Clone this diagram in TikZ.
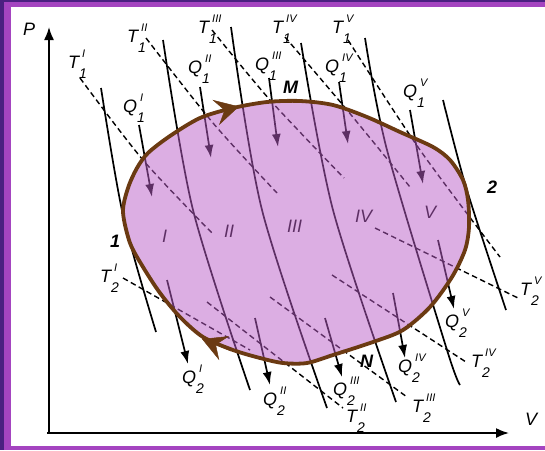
\documentclass[tikz,border=0pt]{standalone}
\usepackage{fontspec}
\setmainfont{Liberation Sans}
\usepackage{tikz}
\usetikzlibrary{arrows.meta}
\definecolor{Frame}{HTML}{A444C0}
\definecolor{FrameDark}{HTML}{4A2080}
\definecolor{Cycle}{HTML}{BB5FC9}
\definecolor{Rim}{HTML}{6B3A12}

\newcommand{\tlab}[3]{#1\rlap{\raisebox{-10pt}{\fontsize{14}{14}\selectfont #2}}\kern3pt\raisebox{11pt}{\fontsize{11}{11}\selectfont #3}}

\begin{document}
\begin{tikzpicture}[x=1pt,y=-1pt,
  every node/.style={font=\fontsize{18}{18}\selectfont\itshape, inner sep=0pt, anchor=base west},
  adiabat/.style={line width=1.7pt},
  isotherm/.style={line width=1.4pt, dash pattern=on 5.5pt off 3.5pt},
  heat/.style={line width=1.7pt, -{Latex[length=13pt,width=9pt]}},
  axis/.style={line width=1.7pt, -{Latex[length=13pt,width=10pt]}},
  flowtip/.style={Rim, line width=0.5pt, -{Stealth[length=24pt,width=26pt,inset=9pt]}},
  point/.style={font=\fontsize{18}{18}\selectfont\bfseries\itshape}]

      % frame
      \fill[FrameDark] (0,0) rectangle (545,450);
      \fill[Frame] (3.5,1.5) rectangle (545,450);
      \fill[white] (10.5,7) rectangle (545,445.5);

      % axes
      \coordinate (origin) at (49,433);
      \coordinate (ptop) at (49,27);
      \coordinate (vend) at (509,433);
      \draw[axis] (origin) -- (ptop);
      \draw[axis] (47,433) -- (vend);
      \node (pP) at (23,35) {P};
      \node (vV) at (525,425) {V};

      % adiabats
      \draw[adiabat] plot[smooth] coordinates {(101,88) (123,215) (156,332)};
      \draw[adiabat] plot[smooth] coordinates {(163,40) (193,210) (250,390)};
      \draw[adiabat] plot[smooth] coordinates {(231,27) (262,210) (327,408)};
      \draw[adiabat] plot[smooth] coordinates {(301,43) (333,210) (396,402)};
      \draw[adiabat] plot[smooth] coordinates {(365,38) (387,150) (447,350) (460,385)};
      \draw[adiabat] plot[smooth] coordinates {(443,100) (466,187) (506,310)};

      % isotherms, hot side
      \draw[isotherm] plot[smooth] coordinates {(80,78) (143,160) (212,233)};
      \draw[isotherm] plot[smooth] coordinates {(146,38) (213,123) (277,193)};
      \draw[isotherm] plot[smooth] coordinates {(212,30) (270,100) (344,178)};
      \draw[isotherm] plot[smooth] coordinates {(285,37) (347,110) (410,187)};
      \draw[isotherm] plot[smooth] coordinates {(348,40) (420,150) (500,257)};
      % isotherms, cold side
      \draw[isotherm] (123,278) -- (250,350);
      \draw[isotherm] (207,302) -- (343,408);
      \draw[isotherm] (270,297) -- (407,397);
      \draw[isotherm] (332,275) -- (466,362);
      \draw[isotherm] (375,228) -- (518,298);

      % heat in
      \coordinate (q1Ia) at (139,125);   \coordinate (q1Ib) at (152,197);
      \coordinate (q1IIa) at (200,87);   \coordinate (q1IIb) at (211,158);
      \coordinate (q1IIIa) at (269,78);  \coordinate (q1IIIb) at (278,147);
      \coordinate (q1IVa) at (339,82);   \coordinate (q1IVb) at (348,144);
      \coordinate (q1Va) at (410,110);   \coordinate (q1Vb) at (423,184);
      \draw[heat] (q1Ia) -- (q1Ib);
      \draw[heat] (q1IIa) -- (q1IIb);
      \draw[heat] (q1IIIa) -- (q1IIIb);
      \draw[heat] (q1IVa) -- (q1IVb);
      \draw[heat] (q1Va) -- (q1Vb);
      % heat out
      \coordinate (q2Ia) at (167,280);   \coordinate (q2Ib) at (188,364);
      \coordinate (q2IIa) at (255,318);  \coordinate (q2IIb) at (270,385);
      \coordinate (q2IIIa) at (325,318); \coordinate (q2IIIb) at (342,377);
      \coordinate (q2IVa) at (393,293);  \coordinate (q2IVb) at (405,358);
      \coordinate (q2Va) at (438,240);   \coordinate (q2Vb) at (454,309);
      \draw[heat] (q2Ia) -- (q2Ib);
      \draw[heat] (q2IIa) -- (q2IIb);
      \draw[heat] (q2IIIa) -- (q2IIIb);
      \draw[heat] (q2IVa) -- (q2IVb);
      \draw[heat] (q2Va) -- (q2Vb);

      % cycle numbers
      \node (cI) at (162,242) {I};
      \node (cII) at (224,237) {II};
      \node (cIII) at (287,232) {III};
      \node (cIV) at (355,222) {IV};
      \node (cV) at (424,218) {V};

      % the cycle
      \path[fill=Cycle, fill opacity=0.5, draw=Rim, line width=3.8pt]
        plot[smooth cycle] coordinates {(123,212) (128,188) (137,168) (148,153)
          (170,136) (200,118) (233,108) (267,102) (300,101) (333,105) (367,117)
          (400,132) (433,147) (450,160) (463,180) (468,200) (469,227) (465,250)
          (452,277) (430,307) (403,330) (373,342) (333,355) (307,363) (283,363)
          (260,358) (233,350) (203,337) (180,317) (160,293) (143,267) (130,243)};
      \coordinate (topA) at (210,114);  \coordinate (topB) at (239,106.5);
      \coordinate (botA) at (231,351);  \coordinate (botB) at (202,339);
      \draw[flowtip] (topA) -- (topB);
      \draw[flowtip] (botA) -- (botB);

      % labels
      \node (t1I) at (68,68) {\tlab{T}{1}{I}};
      \node (t1II) at (127,42) {\tlab{T}{1}{II}};
      \node (t1III) at (198,33) {\tlab{T}{1}{III}};
      \node (t1IV) at (272,33) {\tlab{T}{1}{IV}};
      \node (t1V) at (332,33) {\tlab{T}{1}{V}};
      \node (l1I) at (123,112) {\tlab{Q}{1}{I}};
      \node (l1II) at (188,73) {\tlab{Q}{1}{II}};
      \node (l1III) at (255,70) {\tlab{Q}{1}{III}};
      \node (l1IV) at (325,72) {\tlab{Q}{1}{IV}};
      \node (l1V) at (403,97) {\tlab{Q}{1}{V}};
      \node (t2I) at (100,282) {\tlab{T}{2}{I}};
      \node (t2II) at (346,422) {\tlab{T}{2}{II}};
      \node (t2III) at (412,412) {\tlab{T}{2}{III}};
      \node (t2IV) at (471,367) {\tlab{T}{2}{IV}};
      \node (t2V) at (520,295) {\tlab{T}{2}{V}};
      \node (l2I) at (182,383) {\tlab{Q}{2}{I}};
      \node (l2II) at (263,405) {\tlab{Q}{2}{II}};
      \node (l2III) at (333,395) {\tlab{Q}{2}{III}};
      \node (l2IV) at (398,372) {\tlab{Q}{2}{IV}};
      \node (l2V) at (445,327) {\tlab{Q}{2}{V}};
      \node[point] (ptM) at (283,93) {M};
      \node[point] (ptN) at (360,367) {N};
      \node[point] (pt1) at (110,247) {1};
      \node[point] (pt2) at (487,193) {2};
    \end{tikzpicture}
\end{document}
